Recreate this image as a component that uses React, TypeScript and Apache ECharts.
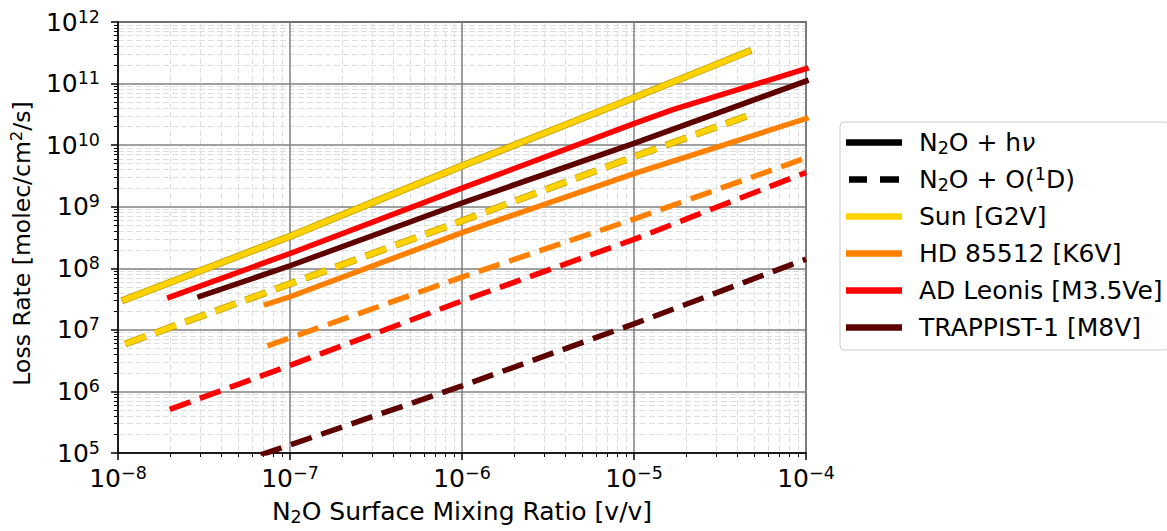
import React, { useEffect, useRef } from "react";
import * as echarts from "echarts";

// ---- data ----
const sunHvX = [1.1e-8, 1e-7, 1e-6, 1e-5, 4.6e-5];
const sunHvY = [3.1e7, 3.3e8, 4.6e9, 5.9e10, 3.3e11];
const hdHvX = [7.3e-8, 1e-7, 1e-6, 1e-5, 1e-4];
const hdHvY = [2.6e7, 3.45e7, 3.8e8, 3.45e9, 2.7e10];
const adHvX = [2e-8, 1e-7, 1e-6, 1e-5, 1.7e-5, 1e-4];
const adHvY = [3.4e7, 1.74e8, 2.0e9, 2.24e10, 3.8e10, 1.74e11];
const trHvX = [3e-8, 1e-7, 1e-6, 1e-5, 1e-4];
const trHvY = [3.5e7, 1.1e8, 1.15e9, 1.07e10, 1.1e11];

const sunO1dX = [1.1e-8, 1e-7, 1e-6, 1e-5, 4.5e-5];
const sunO1dY = [5.9e6, 5.6e7, 5.9e8, 6.5e9, 2.95e10];
const hdO1dX = [7.4e-8, 1e-7, 1e-6, 1e-5, 1e-4];
const hdO1dY = [5.5e6, 7.4e6, 7.2e7, 6.3e8, 6.2e9];
const adO1dX = [2e-8, 1e-7, 1e-6, 1e-5, 1e-4];
const adO1dY = [5.1e5, 2.65e6, 2.95e7, 2.95e8, 3.6e9];
const trO1dX = [3e-8, 1e-7, 1e-6, 1e-5, 1e-4];
const trO1dY = [4.3e4, 1.35e5, 1.23e6, 1.25e7, 1.41e8];

const xTickExponents = [-8, -7, -6, -5, -4];
const yTickExponents = [5, 6, 7, 8, 9, 10, 11, 12];
const minorMultipliers = [2, 3, 4, 5, 6, 7, 8, 9];

const starNames = ["Sun [G2V]", "HD 85512 [K6V]", "AD Leonis [M3.5Ve]", "TRAPPIST-1 [M8V]"];
const procNames = ["N₂O + hν", "N₂O + O(¹D)"];

const FONT = "'DejaVu Sans', sans-serif";
const FS = 25;
const FS_SMALL = 17.5;
const LH = 29;
const FS_Y = 23.5;
const COLORS = ["#FFD200", "#FF8000", "#FF0000", "#5E0000"];
const SUN_EDGE = "#BFA000";
const DASH = [22, 10];
const LW = 5.5;

function minorLog(exps: number[]) {
  const out: number[] = [];
  for (let i = 0; i < exps.length - 1; i++) {
    for (const m of minorMultipliers) out.push(exps[i] + Math.log10(m));
  }
  return out;
}

function pairs(xs: number[], ys: number[]) {
  return xs.map((x, i) => [x, ys[i]]);
}

function lineSeries(name: string, xs: number[], ys: number[], color: string, dashed: boolean, width = LW, z = 3) {
  return {
    type: "line",
    name,
    data: pairs(xs, ys),
    showSymbol: false,
    symbol: "none",
    clip: true,
    silent: true,
    z,
    itemStyle: { color },
    lineStyle: { color, width, type: dashed ? DASH : "solid", cap: dashed ? "butt" : "square" },
    emphasis: { disabled: true },
  };
}

const supFmt = (e: number) => `{b|10}{e|${e < 0 ? "\u2212" : ""}${Math.abs(e)}}`;

const tickRich = {
  b: { fontSize: FS, fontFamily: FONT, color: "#000", lineHeight: LH },
  e: { fontSize: FS_SMALL, fontFamily: FONT, color: "#000", lineHeight: 17, verticalAlign: "top" },
};

const textRich = {
  sub: { fontSize: FS_SMALL, fontFamily: FONT, color: "#000", lineHeight: 15, verticalAlign: "bottom" },
  sup: { fontSize: FS_SMALL, fontFamily: FONT, color: "#000", lineHeight: 17, verticalAlign: "top" },
  it: { fontSize: FS, fontFamily: FONT, color: "#000", lineHeight: LH, fontStyle: "italic" },
};

const yNameRich = {
  sup: { fontSize: 16.5, fontFamily: FONT, color: "#000", lineHeight: 16, verticalAlign: "top" },
};

const legendRich: Record<string, string> = {
  "N₂O + hν": "N{sub|2}O + h{it|ν}",
  "N₂O + O(¹D)": "N{sub|2}O + O({sup|1}D)",
};

const solidIcon = "path://M0,0h56v6.5h-56zM68,3L68,3.01";
const dashedIcon = "path://M0,3L0,3.01M3,0h18v6.5h-18zM34,0h19v6.5h-19zM68,3L68,3.01";

export default function App() {
  const ref = useRef<HTMLDivElement>(null);
  useEffect(() => {
    const chart = echarts.init(ref.current!, null, { renderer: "svg" });
    const series: any[] = [
      // legend-only entries for the two processes
      { type: "line", name: procNames[0], data: [], symbol: "none", itemStyle: { color: "#000" }, lineStyle: { color: "#000", width: LW } },
      { type: "line", name: procNames[1], data: [], symbol: "none", itemStyle: { color: "#000" }, lineStyle: { color: "#000", width: LW, type: DASH } },
      // Sun (with darker edge)
      lineSeries("_sunEdgeHv", sunHvX, sunHvY, SUN_EDGE, false, LW + 1.6, 2),
      lineSeries(starNames[0], sunHvX, sunHvY, COLORS[0], false, LW, 3),
      lineSeries("_sunEdgeO1d", sunO1dX, sunO1dY, SUN_EDGE, true, LW + 1.6, 2),
      lineSeries(starNames[0], sunO1dX, sunO1dY, COLORS[0], true, LW, 3),
      lineSeries(starNames[1], hdHvX, hdHvY, COLORS[1], false),
      lineSeries(starNames[1], hdO1dX, hdO1dY, COLORS[1], true),
      lineSeries(starNames[2], adHvX, adHvY, COLORS[2], false),
      lineSeries(starNames[2], adO1dX, adO1dY, COLORS[2], true),
      lineSeries(starNames[3], trHvX, trHvY, COLORS[3], false),
      lineSeries(starNames[3], trO1dX, trO1dY, COLORS[3], true),
    ];

    const option: any = {
      animation: false,
      backgroundColor: "#fff",
      textStyle: { fontFamily: FONT },
      grid: {
        left: 116, top: 22, width: 690, height: 435,
        show: true, borderColor: "#000", borderWidth: 1.5, backgroundColor: "transparent",
      },
      xAxis: [
        {
          type: "log", logBase: 10, min: Math.pow(10, xTickExponents[0]), max: Math.pow(10, xTickExponents[xTickExponents.length - 1]),
          position: "bottom", z: 2,
          name: "N{sub|2}O Surface Mixing Ratio [v/v]", nameLocation: "middle", nameGap: 44,
          nameTextStyle: { fontSize: FS, fontFamily: FONT, color: "#000", lineHeight: LH, rich: textRich },
          axisLine: { show: true, onZero: false, lineStyle: { color: "#000", width: 1.5 } },
          axisTick: { show: true, length: 7, lineStyle: { color: "#000", width: 1.5 } },
          axisLabel: {
            show: true, margin: 10.5, showMinLabel: true, showMaxLabel: true,
            formatter: (v: number) => supFmt(Math.round(Math.log10(v))), rich: tickRich,
          },
          splitLine: { show: true, lineStyle: { color: "#808080", width: 1.5 } },
        },
        {
          type: "value", min: xTickExponents[0], max: xTickExponents[xTickExponents.length - 1], position: "bottom", z: 1,
          axisLine: { show: false, onZero: false },
          axisTick: { show: true, customValues: minorLog(xTickExponents), length: 4, lineStyle: { color: "#000", width: 1 } },
          axisLabel: { show: false },
          splitLine: { show: true, lineStyle: { color: "#dedede", width: 1, type: [6, 3] } },
        },
      ],
      yAxis: [
        {
          type: "log", logBase: 10, min: Math.pow(10, yTickExponents[0]), max: Math.pow(10, yTickExponents[yTickExponents.length - 1]),
          position: "left", z: 2,
          name: "Loss Rate [molec/cm{sup|2}/s]", nameLocation: "middle", nameGap: 78,
          nameTextStyle: { fontSize: FS_Y, fontFamily: FONT, color: "#000", lineHeight: 27, padding: [0, 12, 0, 0], rich: yNameRich },
          axisLine: { show: true, onZero: false, lineStyle: { color: "#000", width: 1.5 } },
          axisTick: { show: true, length: 7, lineStyle: { color: "#000", width: 1.5 } },
          axisLabel: {
            show: true, margin: 18, showMinLabel: true, showMaxLabel: true,
            formatter: (v: number) => supFmt(Math.round(Math.log10(v))), rich: tickRich,
          },
          splitLine: { show: true, lineStyle: { color: "#808080", width: 1.5 } },
        },
        {
          type: "value", min: yTickExponents[0], max: yTickExponents[yTickExponents.length - 1], position: "left", z: 1,
          axisLine: { show: false, onZero: false },
          axisTick: { show: true, customValues: minorLog(yTickExponents), length: 4, lineStyle: { color: "#000", width: 1 } },
          axisLabel: { show: false },
          splitLine: { show: true, lineStyle: { color: "#dedede", width: 1, type: [6, 3] } },
        },
      ],
      legend: {
        show: true, orient: "vertical", left: 840, top: 122,
        padding: [6, 6, 8, 6], itemGap: 8, itemWidth: 68, itemHeight: 6.5,
        selectedMode: false,
        backgroundColor: "rgba(255,255,255,0.8)", borderColor: "#cccccc", borderWidth: 1, borderRadius: 4,
        itemStyle: { borderWidth: 0 },
        textStyle: { fontSize: FS, fontFamily: FONT, color: "#000", lineHeight: LH, rich: textRich },
        formatter: (name: string) => legendRich[name] ?? name,
        data: [
          { name: procNames[0], icon: solidIcon },
          { name: procNames[1], icon: dashedIcon },
          ...starNames.map((n) => ({ name: n, icon: solidIcon })),
        ],
      },
      series,
    };
    chart.setOption(option);
    return () => chart.dispose();
  }, []);
  return (
    <div
      ref={ref}
      style={{ position: "fixed", left: 0, top: 0, width: 1167, height: 531, background: "#fff" }}
    />
  );
}
